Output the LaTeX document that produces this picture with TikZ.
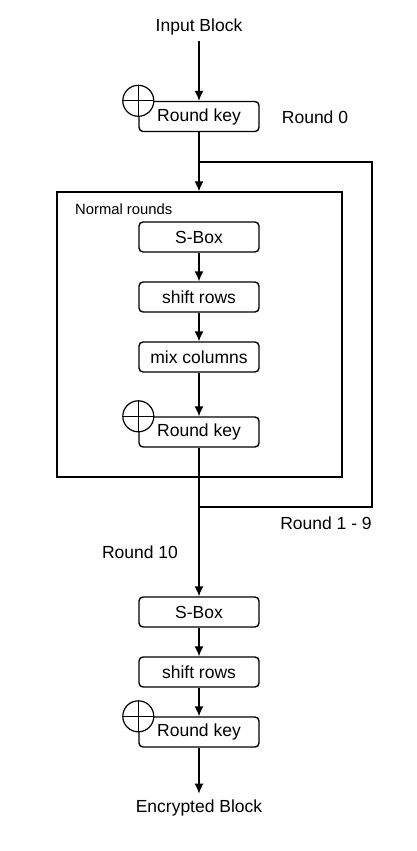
\documentclass[tikz,border=0pt]{standalone}
\usepackage{fontspec}
\setmainfont{Liberation Sans}
\usepackage{tikz}
\usetikzlibrary{calc,arrows.meta}

\tikzset{
    stage/.style={draw,line width=1.4pt,rounded corners=4pt,minimum width=120pt,minimum height=30pt,inner sep=0pt,font=\fontsize{17.5}{20}\selectfont},
    lbl/.style={inner sep=6pt,font=\fontsize{17.5}{20}\selectfont},
    arr/.style={line width=1.4pt,-{Latex[length=10pt,width=9pt]}},
    xorsym/.style={line width=1.2pt}
}
\newcommand{\xorat}[1]{
    \filldraw[xorsym,fill=white] (#1) circle (15.5pt);
    \draw[xorsym] ($(#1)+(-15.5pt,0)$) -- ($(#1)+(15.5pt,0)$);
    \draw[xorsym] ($(#1)+(0,-15.5pt)$) -- ($(#1)+(0,15.5pt)$);
}

\begin{document}
\begin{tikzpicture}[x=1pt,y=-1pt]
        \useasboundingbox (0,0) rectangle (416,851);
        % first round
        \node[lbl] (in) at (199,27) {Input Block};
        \node[stage] (rk0) at (199,116.5) {Round key};
        \xorat{rk0.north west}
        \node[lbl] (r0) at (315,117) {Round 0};
        \draw[arr] (in)--(rk0);
        % normal rounds
        \node[draw,line width=1.4pt,minimum width=285pt,minimum height=285pt,inner sep=0pt] (normal) at (199.5,334.5) {};
        \node[anchor=west,inner sep=0pt,font=\fontsize{14.8}{17}\selectfont] (nr) at (75,209) {Normal rounds};
        \node[stage] (sb1) at (199,237) {S-Box};
        \node[stage] (sr1) at (199,297) {shift rows};
        \node[stage] (mc1) at (199,357) {mix columns};
        \node[stage] (rk1) at (199,432) {Round key};
        \xorat{rk1.north west}
        \coordinate (split) at (199,162);
        \coordinate (join) at (199,507);
        \draw[arr] (rk0)--(split)--(rk0|-normal.north);
        \draw[line width=1.4pt] (split)--(372,162)--(372,507)--(join);
        \draw[arr] (sb1)--(sr1);
        \draw[arr] (sr1)--(mc1);
        \draw[arr] (mc1)--(rk1);
        \node[lbl] (r19) at (326,523) {Round 1 - 9};
        % last round
        \node[lbl] (r10) at (140,552) {Round 10};
        \node[stage] (sb2) at (199,612) {S-Box};
        \node[stage] (sr2) at (199,672) {shift rows};
        \node[stage] (rk2) at (199,732) {Round key};
        \xorat{rk2.north west}
        \node[lbl] (out) at (199,808) {Encrypted Block};
        \draw[arr] (rk1)--(join)--(sb2);
        \draw[arr] (sb2)--(sr2);
        \draw[arr] (sr2)--(rk2);
        \draw[arr] (rk2)--(out);
    \end{tikzpicture}
\end{document}
